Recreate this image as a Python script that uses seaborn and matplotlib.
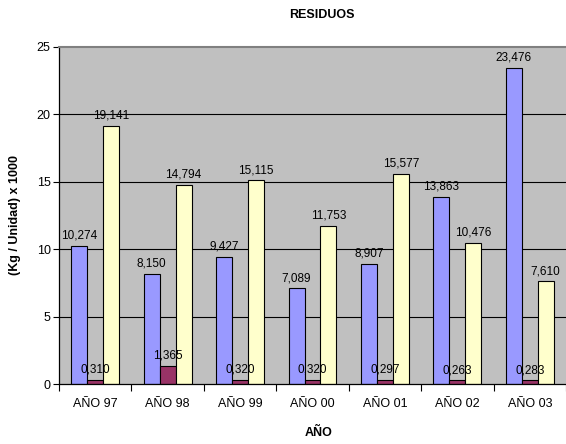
import matplotlib
matplotlib.use("Agg")
import matplotlib.pyplot as plt
import seaborn as sns
import pandas as pd
from matplotlib.ticker import FixedLocator

# === Data ===
years = ["AÑO 97", "AÑO 98", "AÑO 99", "AÑO 00", "AÑO 01", "AÑO 02", "AÑO 03"]
serie_1 = [10.274, 8.150, 9.427, 7.089, 8.907, 13.863, 23.476]
serie_2 = [0.310, 1.365, 0.320, 0.320, 0.297, 0.263, 0.283]
serie_3 = [19.141, 14.794, 15.115, 11.753, 15.577, 10.476, 7.610]
series_names = ["Serie 1", "Serie 2", "Serie 3"]
colors = ["#9999FF", "#993366", "#FFFFCC"]

df = pd.DataFrame({
    "year": years * 3,
    "value": serie_1 + serie_2 + serie_3,
    "serie": [s for s in series_names for _ in years],
})

# === Plot ===
sns.set_style("white")
plt.rcParams["font.family"] = ["Liberation Sans", "DejaVu Sans"]
plt.rcParams["text.color"] = "black"
plt.rcParams["xtick.color"] = "black"
plt.rcParams["ytick.color"] = "black"

fig = plt.figure(figsize=(5.66, 4.44), dpi=100)
ax = fig.add_axes([59 / 566, 60 / 444, 507 / 566, 337 / 444])
ax.set_facecolor("#C0C0C0")

sns.barplot(data=df, x="year", y="value", hue="serie", palette=colors, saturation=1,
            width=0.66, edgecolor="black", linewidth=0.8, ax=ax, legend=False)

for cont in ax.containers:
    vals = [b.get_height() for b in cont]
    ax.bar_label(cont, labels=[f"{v:.3f}".replace(".", ",") for v in vals],
                 padding=3, fontsize=8.5, color="black")

ax.set_ylim(0, 25)
ax.set_xlim(-0.5, 6.5)
ax.set_yticks([0, 5, 10, 15, 20, 25])
for y in [5, 10, 15, 20]:
    ax.axhline(y, color="black", linewidth=0.8, zorder=0.5)

ax.tick_params(axis="y", length=4, width=0.8, color="black", labelsize=9, pad=2, left=True)
ax.tick_params(axis="x", which="major", length=0, labelsize=9, pad=10)
ax.xaxis.set_minor_locator(FixedLocator([i - 0.5 for i in range(len(years) + 1)]))
ax.tick_params(axis="x", which="minor", length=5, width=0.8, color="black", bottom=True)

for side in ["left", "bottom"]:
    ax.spines[side].set_color("black")
    ax.spines[side].set_linewidth(0.9)
ax.spines["top"].set_color("#808080")
ax.spines["top"].set_linewidth(1.5)
ax.spines["right"].set_visible(False)

ax.set_xlabel("")
ax.set_ylabel("")
fig.text(322 / 566, 1 - 15 / 444, "RESIDUOS", ha="center", va="center",
         fontsize=9, fontweight="bold")
fig.text(319 / 566, 1 - 433 / 444, "AÑO", ha="center", va="center",
         fontsize=9, fontweight="bold")
fig.text(15 / 566, 1 - 215 / 444, "(Kg / Unidad) x 1000", ha="center", va="center",
         rotation=90, fontsize=9, fontweight="bold")

fig.savefig("out.png", dpi=100)
plt.close(fig)
